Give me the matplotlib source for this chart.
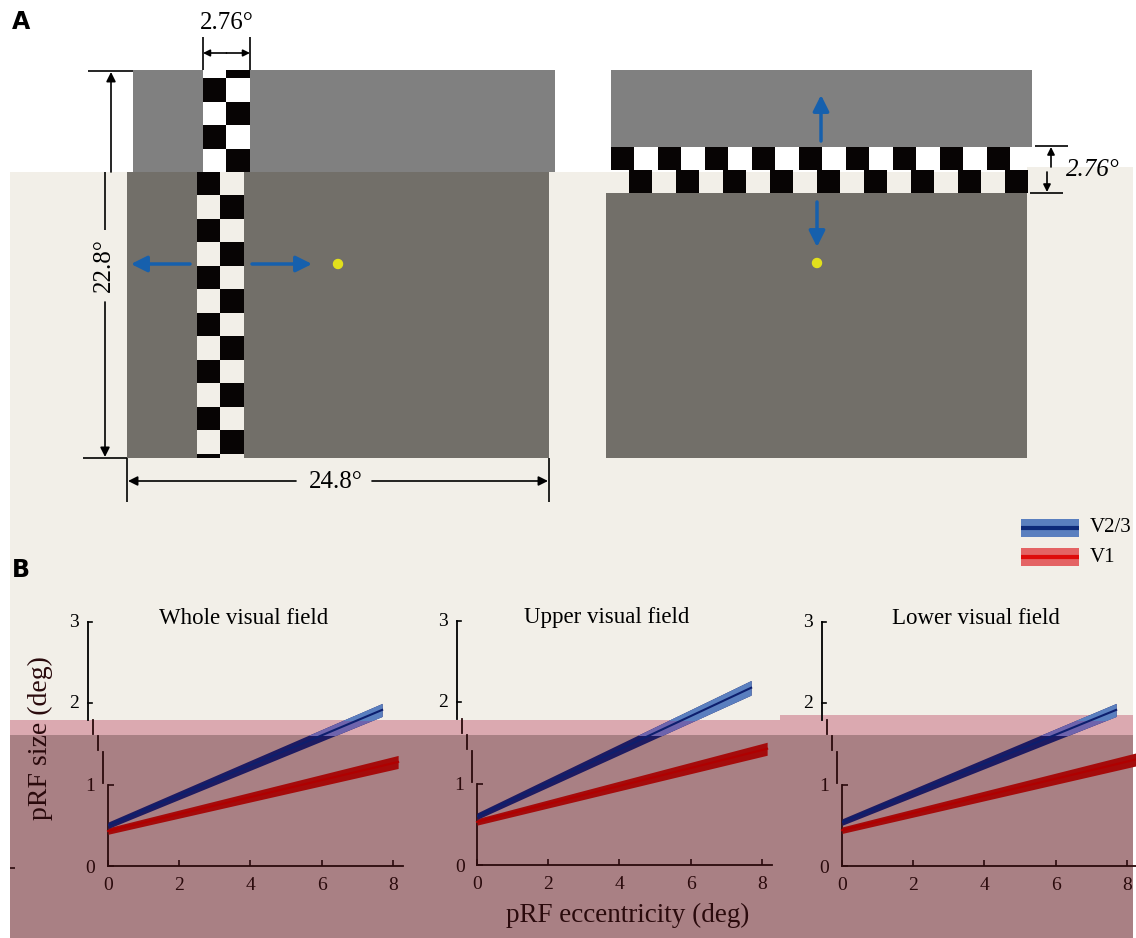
import matplotlib
matplotlib.use('Agg')
import matplotlib.pyplot as plt
from matplotlib.patches import Rectangle, Circle, FancyArrowPatch
from matplotlib.transforms import offset_copy

# --- Panel B data ---
panels = ['Whole visual field', 'Upper visual field', 'Lower visual field']
title_x = [3.8, 3.65, 3.75]
v23_x = [[0, 7.7], [0, 7.7], [0, 7.7]]
v23_y = [[0.50, 1.92], [0.60, 2.18], [0.54, 1.92]]
v23_err = [[0.04, 0.08], [0.04, 0.09], [0.04, 0.08]]
v1_x = [[0, 8.15], [0, 8.15], [0, 8.25]]
v1_y = [[0.43, 1.28], [0.53, 1.43], [0.44, 1.31]]
v1_err = [[0.04, 0.08], [0.04, 0.08], [0.04, 0.08]]
x_ticks = [0, 2, 4, 6, 8]
legend_labels = ['V2/3', 'V1']

# --- Panel A stimulus dimensions (deg) ---
field_w_deg = 24.8
field_h_deg = 22.8
bar_deg = 2.76

W, H = 1136, 938
SERIF = 'Liberation Serif'
cream = '#f2efe8'
gray_top = '#808080'
gray_low = '#726f69'
pink = '#dba9b0'
mauve = '#a98084'
blue_arrow = '#1660ad'
yellow = '#e2e01c'
dark = '#2a0a0c'

fig = plt.figure(figsize=(W / 100, H / 100), dpi=100)
fig.patch.set_facecolor('white')
ax0 = fig.add_axes([0, 0, 1, 1])
ax0.set_xlim(0, W)
ax0.set_ylim(H, 0)
ax0.axis('off')

def rect(x0, y0, x1, y1, c, z=1):
    ax0.add_patch(Rectangle((x0, y0), x1 - x0, y1 - y0, facecolor=c, edgecolor='none', zorder=z))

def arrow(p0, p1, c='black', lw=1.2, style='-|>', ms=12):
    ax0.add_patch(FancyArrowPatch(p0, p1, arrowstyle=style, mutation_scale=ms, color=c, lw=lw,
                                  shrinkA=0, shrinkB=0, zorder=5))

def line(xs, ys, c='black', lw=1.2, z=5):
    ax0.plot(xs, ys, color=c, lw=lw, zorder=z, solid_capstyle='butt')

# backgrounds
rect(10, 172, 1133, H, cream, 0)
rect(1027, 167, 1133, 172, cream, 0)
rect(10, 720, 780, 735, pink, 0)
rect(780, 715, 1133, 735, pink, 0)
rect(10, 735, 1133, H, mauve, 0)

# ---------------- Panel A, left ----------------
ppd = 422 / field_w_deg          # pixels per degree
sq = bar_deg * ppd / 2           # checker square size
top_x, top_y, split = 133, 70, 172
shift = -6
bot_y = top_y + field_h_deg * ppd
rect(top_x, top_y, top_x + field_w_deg * ppd, split, gray_top)
rect(top_x + shift, split, top_x + shift + field_w_deg * ppd, bot_y, gray_low)

bx = 203
rect(bx, top_y, bx + 2 * sq, split, 'white', 2)
k = 0
y = split
while y > top_y:
    y0 = max(y - sq, top_y)
    col = 1 if k % 2 == 0 else 0
    rect(bx + col * sq, y0, bx + (col + 1) * sq, y, '#070404', 3)
    y -= sq
    k += 1
bx2 = bx + shift
rect(bx2, split, bx2 + 2 * sq, bot_y, cream, 2)
k = 0
y = split
while y < bot_y:
    y1 = min(y + sq, bot_y)
    col = 0 if k % 2 == 0 else 1
    rect(bx2 + col * sq, y, bx2 + (col + 1) * sq, y1, '#070404', 3)
    y += sq
    k += 1

# dimension: bar width
line([bx, bx], [37, top_y])
line([bx + 2 * sq, bx + 2 * sq], [37, top_y])
arrow((bx + sq, 53), (bx, 53), ms=10)
arrow((bx + sq, 53), (bx + 2 * sq, 53), ms=10)
ax0.text(bx + sq, 23, f'{bar_deg}°', ha='center', va='center', fontsize=18, family=SERIF)

# dimension: height
line([88, top_x], [71, 71])
arrow((111, split), (111, 72), ms=14)
line([105, 105], [split, 230])
arrow((105, 302), (105, bot_y - 1), ms=14)
ax0.text(104, 265, f'{field_h_deg}°', ha='center', va='center', rotation=90, fontsize=18, family=SERIF)
line([83, top_x + shift], [bot_y, bot_y])

# dimension: width
lx0, lx1 = top_x + shift, top_x + shift + field_w_deg * ppd
line([lx0, lx0], [bot_y, 502])
line([lx1, lx1], [bot_y, 502])
arrow((296, 481), (lx0 + 1, 481), ms=14)
arrow((372, 481), (lx1 - 1, 481), ms=14)
ax0.text(336, 482, f'{field_w_deg}°', ha='center', va='center', fontsize=18, family=SERIF)

# motion arrows + fixation
arrow((190, 264), (131, 264), c=blue_arrow, lw=2.5, ms=24)
arrow((252, 264), (312, 264), c=blue_arrow, lw=2.5, ms=24)
ax0.add_patch(Circle((338, 264), 4.5, color=yellow, zorder=6))

# ---------------- Panel A, right ----------------
rx = 611
rect(rx, top_y, 1032, 147, gray_top)
rect(606, 193, 1027, 458, gray_low)
for i in range(9):
    rect(rx + 2 * i * sq, 147, rx + (2 * i + 1) * sq, 170, '#070404', 3)
    rect(629 + 2 * i * sq, 170, 629 + (2 * i + 1) * sq, 193, '#070404', 3)
arrow((821, 141), (821, 95), c=blue_arrow, lw=2.5, ms=24)
arrow((817, 202), (817, 247), c=blue_arrow, lw=2.5, ms=24)
ax0.add_patch(Circle((817, 263), 4.5, color=yellow, zorder=6))
line([1035, 1068], [146, 146])
line([1030, 1063], [193, 193])
arrow((1051, 167), (1051, 147), ms=11)
arrow((1047, 172), (1047, 192), ms=11)
ax0.text(1066, 170, f'{bar_deg}°', ha='left', va='center', fontsize=18, family=SERIF, style='italic')

# labels
ax0.text(12, 22, 'A', fontsize=17, fontweight='bold', va='center', ha='left', family='DejaVu Sans')
ax0.text(12, 570, 'B', fontsize=17, fontweight='bold', va='center', ha='left', family='DejaVu Sans')

# ---------------- Panel B ----------------
origins = [(108, 866), (477, 865), (842, 866)]
px_unit_x, px_unit_y = 35.6, 81.3
fig_y = lambda py: (H - py) / H
clip_light = Rectangle((0, fig_y(720)), 1, 1, transform=fig.transFigure)
clip_pink = Rectangle((0, fig_y(735)), 1, fig_y(716) - fig_y(735), transform=fig.transFigure)

for i, (x0, y0) in enumerate(origins):
    ax = fig.add_axes([x0 / W, (H - y0) / H, 8.3 * px_unit_x / W, 3 * px_unit_y / H])
    ax.set_facecolor('none')
    ax.set_xlim(0, 8.3)
    ax.set_ylim(0, 3)
    for s in ['top', 'right']:
        ax.spines[s].set_visible(False)
    ax.spines['left'].set_bounds(0, 1)
    for s in ['left', 'bottom']:
        ax.spines[s].set_color(dark)
        ax.spines[s].set_linewidth(1.3)
    ax.set_xticks(x_ticks)
    ax.set_yticks([0, 1])
    ax.tick_params(direction='in', length=4, width=1.2, colors=dark, labelsize=14)
    ax.tick_params(axis='x', pad=8)
    ax.tick_params(axis='y', pad=9)
    for lab in ax.get_xticklabels() + ax.get_yticklabels():
        lab.set_family(SERIF)
    # broken upper part of y axis
    for dx, ylo, yhi in [(-20, 1.8, 3.0), (-15, 1.62, 1.8), (-10, 1.43, 1.6), (-5, 1.02, 1.4)]:
        tr = offset_copy(ax.transData, fig=fig, x=dx, y=0, units='dots')
        c = 'black' if ylo >= 1.8 else dark
        ax.plot([0, 0], [ylo, yhi], color=c, lw=1.3, transform=tr, clip_on=False)
    tr = offset_copy(ax.transData, fig=fig, x=-20, y=0, units='dots')
    for t in [2, 3]:
        ax.plot([0, 0.1], [t, t], color='black', lw=1.2, transform=tr, clip_on=False)
        tr_lab = offset_copy(ax.transData, fig=fig, x=-29, y=0, units='dots')
        ax.text(0, t, str(t), transform=tr_lab, ha='right', va='center', fontsize=14, family=SERIF)

    # V1 band
    lo = [m - e for m, e in zip(v1_y[i], v1_err[i])]
    hi = [m + e for m, e in zip(v1_y[i], v1_err[i])]
    ax.fill_between(v1_x[i], lo, hi, color='#a50b0b', lw=0, clip_on=False, zorder=3)
    ax.plot(v1_x[i], v1_y[i], color='#b00000', lw=1.5, clip_on=False, zorder=3)
    # V2/3 band: dark under the overlay, lighter above it
    lo = [m - e for m, e in zip(v23_y[i], v23_err[i])]
    hi = [m + e for m, e in zip(v23_y[i], v23_err[i])]
    ax.fill_between(v23_x[i], lo, hi, color='#1d1b62', lw=0, zorder=4)
    f2 = ax.fill_between(v23_x[i], lo, hi, color='#6e64ad', lw=0, zorder=4)
    f2.set_clip_path(clip_pink)
    f3 = ax.fill_between(v23_x[i], lo, hi, color='#5a7fbf', lw=0, zorder=4)
    f3.set_clip_path(clip_light)
    ax.plot(v23_x[i], v23_y[i], color='#0d1f6e', lw=1.5, zorder=5)

    ax.text(title_x[i], 3.05, panels[i], ha='center', va='center', fontsize=16.5, family=SERIF)

fig.text(628 / W, fig_y(915), 'pRF eccentricity (deg)', ha='center', va='center',
         fontsize=19.5, family=SERIF, color=dark)
fig.text(40 / W, fig_y(738), 'pRF size (deg)', ha='center', va='center', rotation=90,
         fontsize=20, family=SERIF, color=dark)
line([10, 15], [868, 868], c=dark, lw=1.2)

# legend
for j, (bc, lc) in enumerate([('#5a7fbf', '#0d2a7a'), ('#e46364', '#de0b0b')]):
    yc = 528 + j * 29
    rect(1021, yc - 9, 1079, yc + 9, bc, 4)
    line([1021, 1079], [yc, yc], c=lc, lw=3)
    ax0.text(1090, yc, legend_labels[j], ha='left', va='center', fontsize=15, family=SERIF)
rect(1133, 0, W, H, 'white', 7)

fig.savefig('out.png', dpi=100)
